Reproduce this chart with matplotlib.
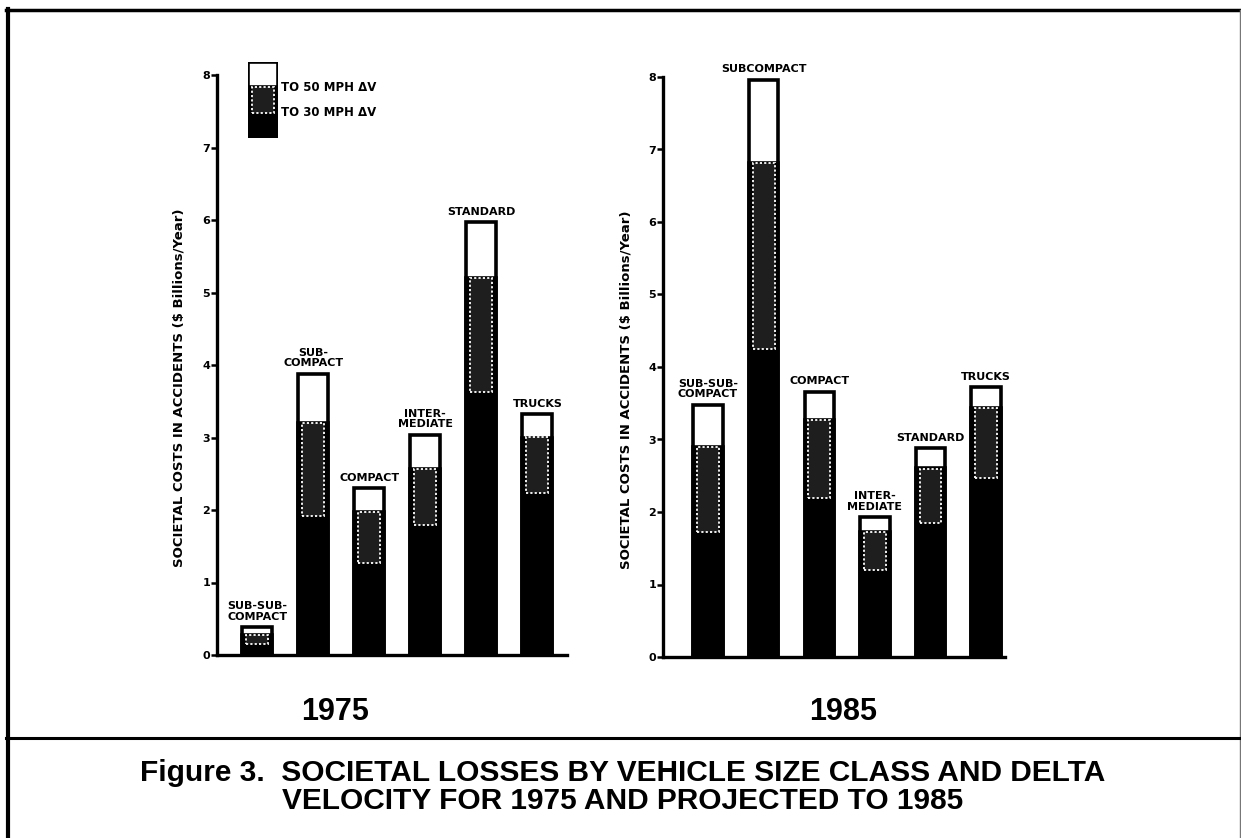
import matplotlib
matplotlib.use("Agg")
import matplotlib.pyplot as plt
from matplotlib.lines import Line2D
import numpy as np

# ---------------- data ----------------
labels_1975 = ["SUB-SUB-\nCOMPACT", "SUB-\nCOMPACT", "COMPACT", "INTER-\nMEDIATE", "STANDARD", "TRUCKS"]
to30_1975 = [0.15, 1.92, 1.27, 1.79, 3.63, 2.24]
to50_1975 = [0.28, 3.20, 1.97, 2.56, 5.20, 3.00]
total_1975 = [0.38, 3.88, 2.30, 3.04, 5.97, 3.32]

labels_1985 = ["SUB-SUB-\nCOMPACT", "SUBCOMPACT", "COMPACT", "INTER-\nMEDIATE", "STANDARD", "TRUCKS"]
to30_1985 = [1.72, 4.25, 2.19, 1.20, 1.85, 2.47]
to50_1985 = [2.90, 6.81, 3.27, 1.72, 2.60, 3.43]
total_1985 = [3.48, 7.96, 3.66, 1.93, 2.88, 3.72]

yticks = [0, 1, 2, 3, 4, 5, 6, 7, 8]
legend_labels = ["TO 50 MPH \u0394V", "TO 30 MPH \u0394V"]
ylabel = "SOCIETAL COSTS IN ACCIDENTS ($ Billions/Year)"
years = ["1975", "1985"]
caption = "Figure 3.  SOCIETAL LOSSES BY VEHICLE SIZE CLASS AND DELTA\nVELOCITY FOR 1975 AND PROJECTED TO 1985"

SMALL = ["DejaVu Sans"]
SANS = ["Liberation Sans", "DejaVu Sans"]

W, H = 1241, 838
fig = plt.figure(figsize=(W / 100, H / 100), dpi=100)
fig.patch.set_facecolor("white")

def fx(px):
    return px / W

def fy(py):
    return 1 - py / H

BW = 0.53
MID = "#1e1e1e"

def draw_panel(rect, xlim, labels, to30, to50, total):
    ax = fig.add_axes(rect)
    x = np.arange(len(labels))
    to30 = np.array(to30); to50 = np.array(to50); total = np.array(total)
    ax.bar(x, total, width=BW, color="white", edgecolor="black", linewidth=2.6, zorder=2)
    ax.bar(x, to50, width=BW, color="black", edgecolor="black", linewidth=2.6, zorder=3)
    ax.bar(x, to50 - to30, bottom=to30, width=BW * 0.74, color=MID,
           edgecolor="white", linewidth=1.3, linestyle=(0, (1.2, 1.2)), zorder=4)
    for xi, t, lab in zip(x, total, labels):
        ax.annotate(lab, (xi, t), xytext=(0, 4), textcoords="offset points",
                    ha="center", va="bottom", fontsize=8, fontweight="bold",
                    family=SMALL, linespacing=1.05, zorder=5)
    ax.set_xlim(*xlim)
    ax.set_ylim(0, 8)
    ax.set_yticks(yticks)
    ax.set_yticklabels([str(t) for t in yticks], fontsize=8, fontweight="bold", family=SMALL)
    ax.set_xticks([])
    for s in ("top", "right"):
        ax.spines[s].set_visible(False)
    ax.spines["left"].set_linewidth(2.4)
    ax.spines["bottom"].set_linewidth(2.4)
    ax.tick_params(axis="y", length=4, width=1.8, pad=1)
    ax.set_ylabel(ylabel, fontsize=9.5, fontweight="bold", family=SMALL)
    ax.yaxis.set_label_coords(-0.09, 0.46)
    ax.set_facecolor("none")
    return ax

ax1 = draw_panel([fx(217), fy(655), fx(567) - fx(217), fy(75) - fy(655)],
                 (-0.72, 5.53), labels_1975, to30_1975, to50_1975, total_1975)
ax2 = draw_panel([fx(663), fy(657), fx(1005) - fx(663), fy(77) - fy(657)],
                 (-0.81, 5.34), labels_1985, to30_1985, to50_1985, total_1985)

# legend swatch: stacked box
lax = fig.add_axes([fx(248), fy(138), fx(278) - fx(248), fy(62) - fy(138)])
lax.bar([0], [3], width=1, color="white", edgecolor="black", linewidth=2.6)
lax.bar([0], [2], width=1, color="black", edgecolor="black", linewidth=2.6)
lax.bar([0], [1], bottom=[1], width=0.74, color=MID, edgecolor="white",
        linewidth=1.3, linestyle=(0, (1.2, 1.2)))
lax.set_xlim(-0.5, 0.5); lax.set_ylim(0, 3)
lax.axis("off")
lax.text(0.6, 2.0, legend_labels[0], transform=lax.transData, ha="left", va="center",
         fontsize=8.5, fontweight="bold", family=SMALL, clip_on=False)
lax.text(0.6, 1.0, legend_labels[1], transform=lax.transData, ha="left", va="center",
         fontsize=8.5, fontweight="bold", family=SMALL, clip_on=False)

# year labels
fig.text(fx(335), fy(712), years[0], ha="center", va="center", fontsize=22, family=SANS, fontweight="bold")
fig.text(fx(843), fy(712), years[1], ha="center", va="center", fontsize=22, family=SANS, fontweight="bold")

# caption
fig.text(fx(623), fy(787), caption, ha="center", va="center", fontsize=21.5, family=SANS,
         fontweight="bold", linespacing=1.0)

# frame lines
fig.add_artist(Line2D([fx(7.5), fx(7.5)], [0, fy(9)], color="black", lw=3))
fig.add_artist(Line2D([fx(6), 1], [fy(10), fy(10)], color="black", lw=2.5))
fig.add_artist(Line2D([fx(1239.5), fx(1239.5)], [0, fy(10)], color="#777777", lw=1))
fig.add_artist(Line2D([fx(6), 1], [fy(738), fy(738)], color="black", lw=2.2))

fig.savefig("out.png", dpi=100, facecolor="white")
